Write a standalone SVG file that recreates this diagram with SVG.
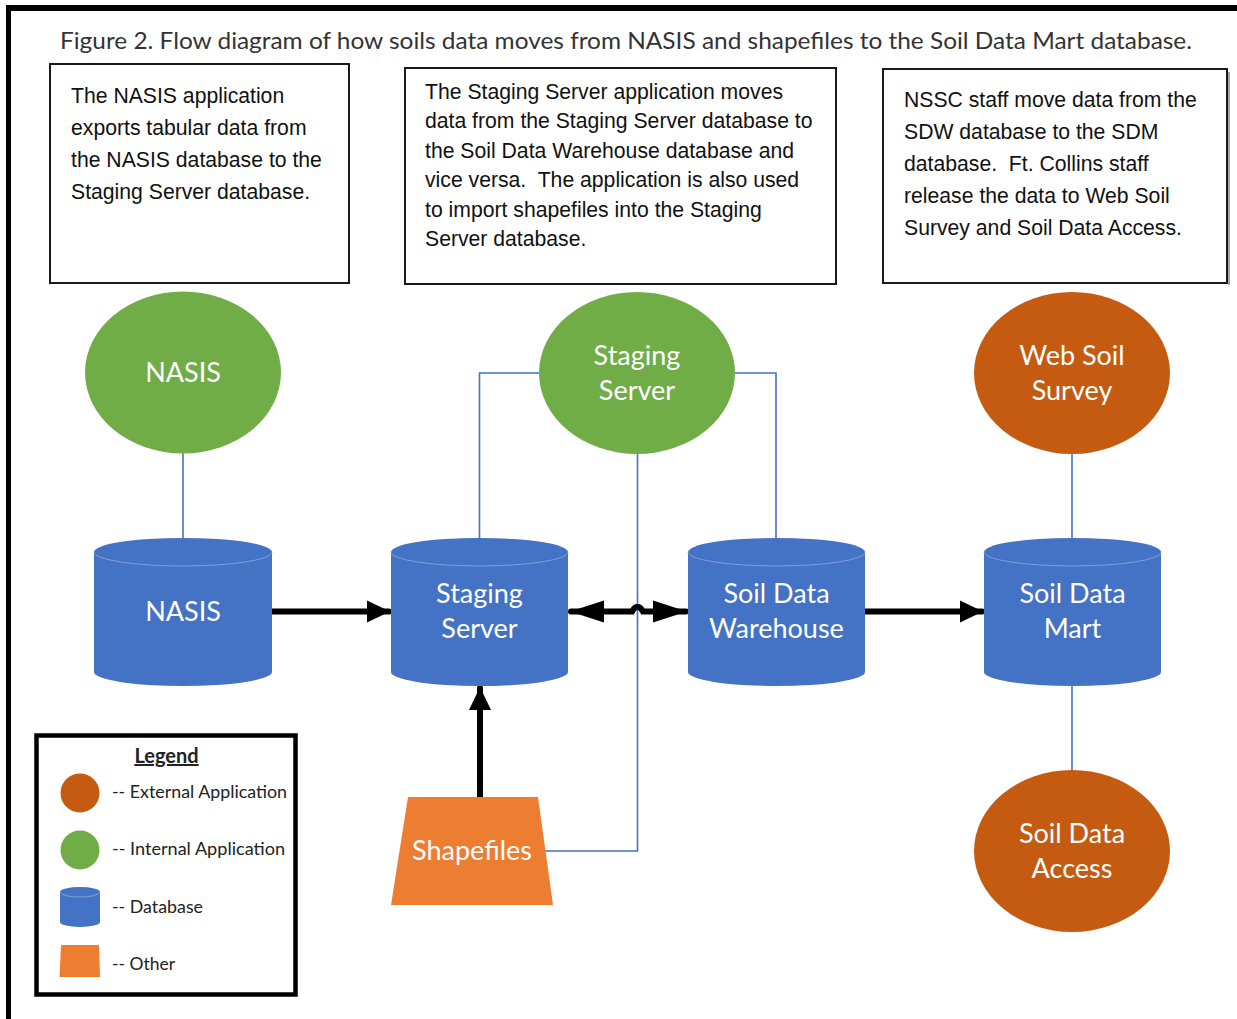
<svg xmlns="http://www.w3.org/2000/svg" width="1237" height="1019" viewBox="0 0 1237 1019">
  <style>
    .box { fill: #ffffff; stroke: #1a1a1a; stroke-width: 2; }
    .note { font-family: "Liberation Sans", Arial, sans-serif; font-size: 21.2px; fill: #111111; white-space: pre; }
    .title { font-family: Lato, "Open Sans", sans-serif; font-size: 22.5px; fill: #333333; }
    .lbl { font-family: Lato, "Open Sans", sans-serif; font-size: 27px; fill: #ffffff; text-anchor: middle; }
    .db { fill: #4472C4; }
    .rim { fill: none; stroke: #7f9fd6; stroke-width: 1; }
    .int { fill: #70AD47; }
    .ext { fill: #C55A11; }
    .other { fill: #ED7D31; }
    .link { fill: none; stroke: #4472C4; stroke-width: 1.6; }
    .flow { fill: none; stroke: #000000; stroke-width: 6; stroke-linecap: round; }
    .leg { font-family: Lato, "Open Sans", sans-serif; font-size: 17px; fill: #222222; }
  </style>
  <defs>
    <marker id="ah" markerUnits="userSpaceOnUse" markerWidth="24" markerHeight="24" viewBox="0 0 24 24" refX="22" refY="12" orient="auto">
      <path d="M0 1 L23 12 L0 23 Z" fill="#000"/>
    </marker>
    <marker id="ahLong" markerUnits="userSpaceOnUse" markerWidth="34" markerHeight="24" viewBox="0 0 34 24" refX="33" refY="12" orient="auto-start-reverse">
      <path d="M0 1 L34 12 L0 23 Z" fill="#000"/>
    </marker>
  </defs>

  <rect x="0" y="0" width="1237" height="1019" fill="#ffffff"/>
  <!-- outer frame -->
  <rect x="6" y="5" width="1231" height="6" fill="#000"/>
  <rect x="6" y="5" width="5" height="1014" fill="#000"/>

  <text class="title" x="60" y="49" textLength="1132" lengthAdjust="spacingAndGlyphs">Figure 2. Flow diagram of how soils data moves from NASIS and shapefiles to the Soil Data Mart database.</text>

  <!-- description boxes -->
  <g id="note-nasis">
    <rect class="box" x="50" y="64" width="299" height="219"/>
    <text class="note" x="71" y="103">The NASIS application</text>
    <text class="note" x="71" y="135">exports tabular data from</text>
    <text class="note" x="71" y="167">the NASIS database to the</text>
    <text class="note" x="71" y="199">Staging Server database.</text>
  </g>
  <g id="note-staging">
    <rect class="box" x="405" y="68" width="431" height="216"/>
    <text class="note" x="425" y="99">The Staging Server application moves</text>
    <text class="note" x="425" y="128">data from the Staging Server database to</text>
    <text class="note" x="425" y="158">the Soil Data Warehouse database and</text>
    <text class="note" x="425" y="187">vice versa.&#160; The application is also used</text>
    <text class="note" x="425" y="217">to import shapefiles into the Staging</text>
    <text class="note" x="425" y="246">Server database.</text>
  </g>
  <g id="note-nssc">
    <line x1="1229" y1="72" x2="1229" y2="285" stroke="#888" stroke-width="1.5"/>
    <rect class="box" x="883" y="69" width="344" height="214"/>
    <text class="note" x="904" y="107">NSSC staff move data from the</text>
    <text class="note" x="904" y="139">SDW database to the SDM</text>
    <text class="note" x="904" y="171">database.&#160; Ft. Collins staff</text>
    <text class="note" x="904" y="203">release the data to Web Soil</text>
    <text class="note" x="904" y="235">Survey and Soil Data Access.</text>
  </g>

  <!-- connectors -->
  <g id="connectors">
    <path class="link" d="M183 453 V540"/>
    <path class="link" d="M539 373 H479.5 V540"/>
    <path class="link" d="M735 373 H776 V540"/>
    <path class="link" d="M637.5 454 V851 H545"/>
    <path class="link" d="M1072 454 V540"/>
    <path class="link" d="M1072 684 V770"/>
    <path class="flow" d="M270 611.5 H389" marker-end="url(#ah)"/>
    <path class="flow" d="M571 611.5 H632 Q637.5 602 643 611.5 H686" marker-start="url(#ahLong)" marker-end="url(#ahLong)"/>
    <path class="flow" d="M863 611.5 H982" marker-end="url(#ah)"/>
    <path class="flow" d="M480 797 V688" marker-end="url(#ah)"/>
  </g>

  <!-- application ellipses -->
  <g id="nasis-app">
    <ellipse class="int" cx="183" cy="372.5" rx="98" ry="81"/>
    <text class="lbl" x="183" y="382">NASIS</text>
  </g>
  <g id="staging-app">
    <ellipse class="int" cx="637" cy="373" rx="98" ry="81"/>
    <text class="lbl" x="637" y="365">Staging</text>
    <text class="lbl" x="637" y="400">Server</text>
  </g>
  <g id="web-soil-survey">
    <ellipse class="ext" cx="1072" cy="373" rx="98" ry="81"/>
    <text class="lbl" x="1072" y="365">Web Soil</text>
    <text class="lbl" x="1072" y="400">Survey</text>
  </g>
  <g id="soil-data-access">
    <ellipse class="ext" cx="1072" cy="851" rx="98" ry="81"/>
    <text class="lbl" x="1072" y="843">Soil Data</text>
    <text class="lbl" x="1072" y="878">Access</text>
  </g>

  <!-- databases -->
  <g id="nasis-db">
    <path class="db" d="M94 552 A89 14 0 0 1 272 552 V672 A89 14 0 0 1 94 672 Z"/>
    <path class="rim" d="M94 552 A89 14 0 0 0 272 552"/>
    <text class="lbl" x="183" y="621">NASIS</text>
  </g>
  <g id="staging-db">
    <path class="db" d="M391 552 A88.5 14 0 0 1 568 552 V672 A88.5 14 0 0 1 391 672 Z"/>
    <path class="rim" d="M391 552 A88.5 14 0 0 0 568 552"/>
    <text class="lbl" x="479.5" y="603">Staging</text>
    <text class="lbl" x="479.5" y="638">Server</text>
  </g>
  <g id="sdw-db">
    <path class="db" d="M688 552 A88.5 14 0 0 1 865 552 V672 A88.5 14 0 0 1 688 672 Z"/>
    <path class="rim" d="M688 552 A88.5 14 0 0 0 865 552"/>
    <text class="lbl" x="776.5" y="603">Soil Data</text>
    <text class="lbl" x="776.5" y="638">Warehouse</text>
  </g>
  <g id="sdm-db">
    <path class="db" d="M984 552 A88.5 14 0 0 1 1161 552 V672 A88.5 14 0 0 1 984 672 Z"/>
    <path class="rim" d="M984 552 A88.5 14 0 0 0 1161 552"/>
    <text class="lbl" x="1072.5" y="603">Soil Data</text>
    <text class="lbl" x="1072.5" y="638">Mart</text>
  </g>

  <!-- shapefiles -->
  <g id="shapefiles">
    <path class="other" d="M408 797 H538 L553 905 H391 Z"/>
    <text class="lbl" x="472" y="860">Shapefiles</text>
  </g>

  <!-- legend -->
  <g id="legend">
    <rect x="36.5" y="735.5" width="259" height="259" fill="#fff" stroke="#000" stroke-width="4.5"/>
    <text x="166.5" y="763" font-family="Lato, 'Open Sans', sans-serif" font-size="20" font-weight="bold" fill="#222" text-anchor="middle" text-decoration="underline">Legend</text>
    <circle class="ext" cx="80" cy="793" r="19.5"/>
    <text class="leg" x="112" y="798" textLength="175" lengthAdjust="spacingAndGlyphs">-- External Application</text>
    <circle class="int" cx="80" cy="850" r="19.5"/>
    <text class="leg" x="112" y="855" textLength="173" lengthAdjust="spacingAndGlyphs">-- Internal Application</text>
    <path class="db" d="M60 892 A20 5 0 0 1 100 892 V922 A20 5 0 0 1 60 922 Z"/>
    <path class="rim" d="M60 892 A20 5 0 0 0 100 892"/>
    <text class="leg" x="112" y="913" textLength="91" lengthAdjust="spacingAndGlyphs">-- Database</text>
    <path class="other" d="M61 945 H99 L100 977 H59.5 Z"/>
    <text class="leg" x="112" y="970" textLength="63" lengthAdjust="spacingAndGlyphs">-- Other</text>
  </g>
</svg>
